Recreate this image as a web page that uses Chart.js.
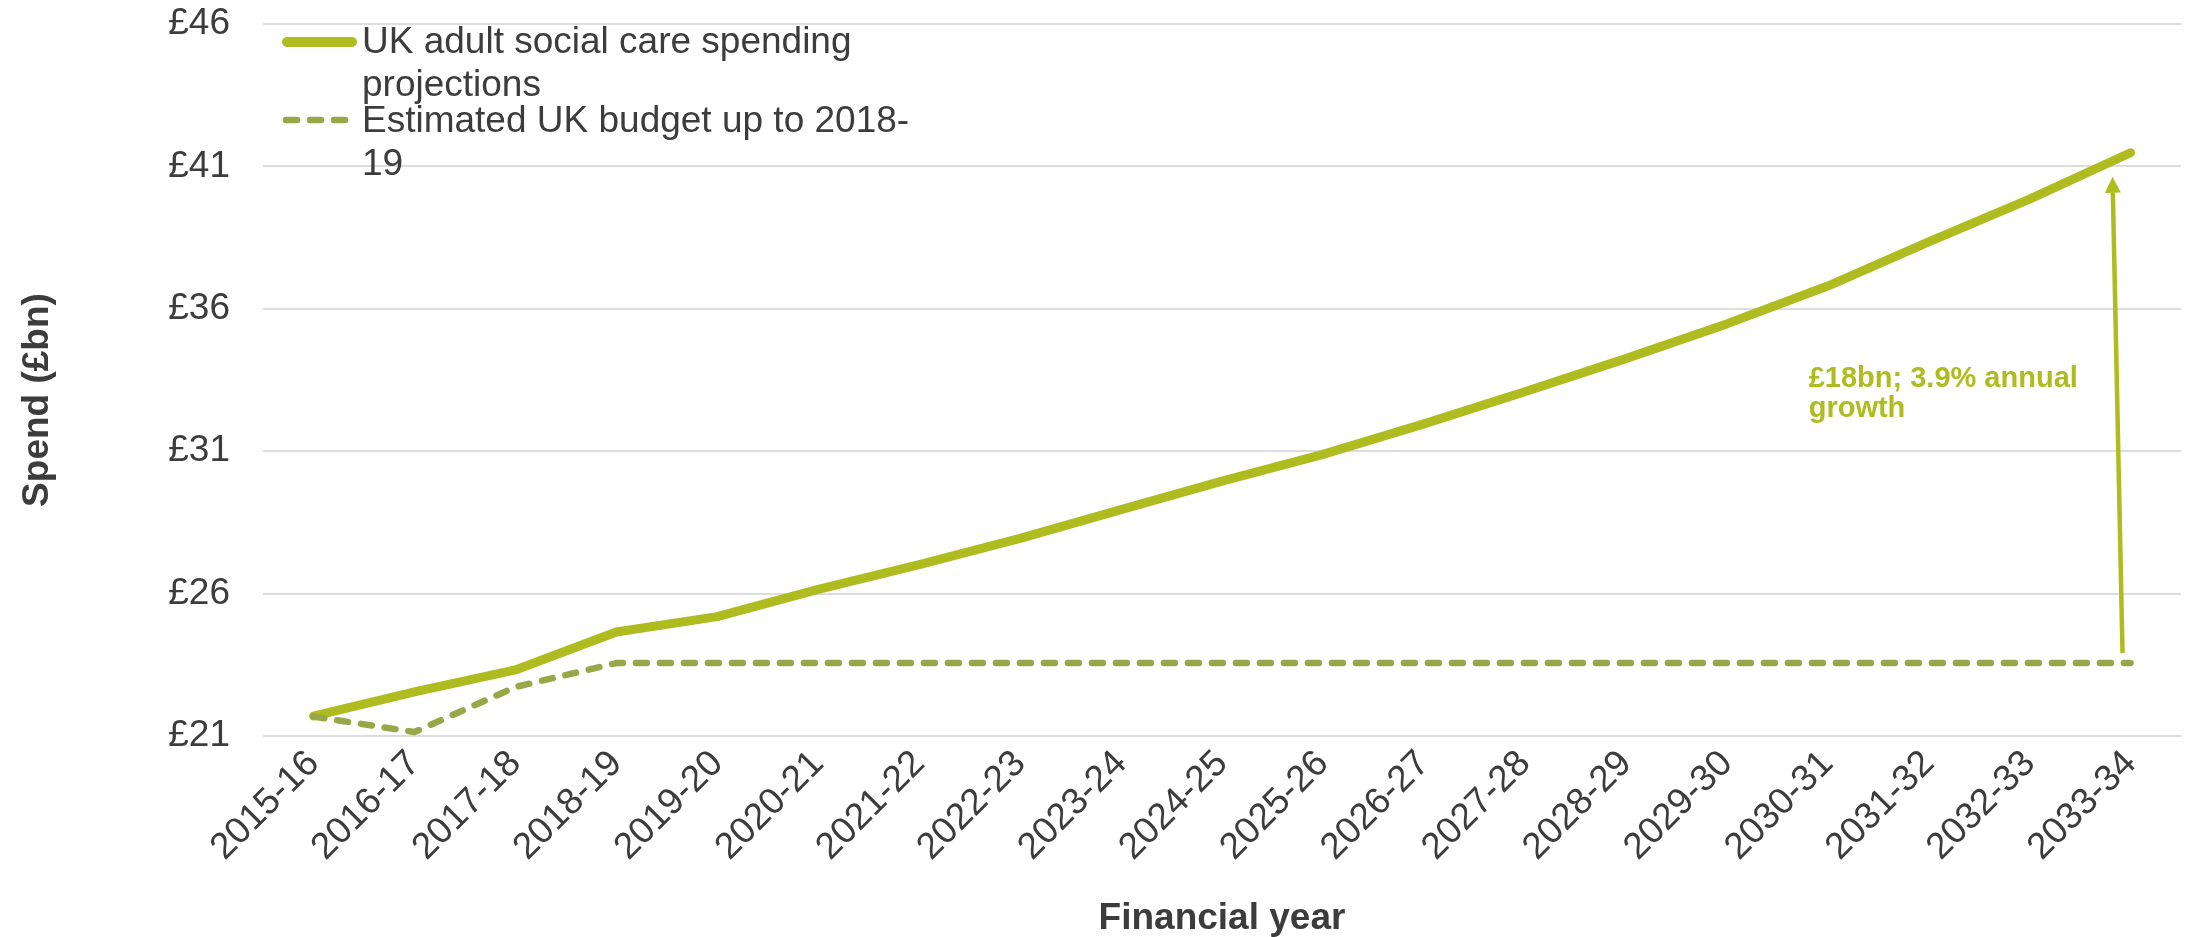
<!DOCTYPE html>
<html>
<head>
<meta charset="utf-8">
<title>UK adult social care spending projections</title>
<script src="https://cdn.jsdelivr.net/npm/chart.js@4/dist/chart.umd.min.js"></script>
<style>
  html, body { margin: 0; padding: 0; background: #ffffff; }
  #wrap { width: 2188px; height: 937px; }
</style>
</head>
<body>
<div id="wrap"><canvas id="chart" width="2188" height="937"></canvas></div>
<script>
// Financial years on the x axis
const years = [
  '2015-16', '2016-17', '2017-18', '2018-19', '2019-20', '2020-21', '2021-22',
  '2022-23', '2023-24', '2024-25', '2025-26', '2026-27', '2027-28', '2028-29',
  '2029-30', '2030-31', '2031-32', '2032-33', '2033-34'
];

// Projected UK adult social care spending (£bn)
const projection = [
  21.7, 22.55, 23.32, 24.65, 25.19, 26.15, 27.02, 27.94, 28.95, 29.95,
  30.89, 31.96, 33.09, 34.25, 35.47, 36.8, 38.35, 39.85, 41.48
];

// Estimated UK budget (£bn), held flat after 2018-19
const budget = [
  21.68, 21.14, 22.72, 23.56, 23.56, 23.56, 23.56, 23.56, 23.56, 23.56,
  23.56, 23.56, 23.56, 23.56, 23.56, 23.56, 23.56, 23.56, 23.56
];

// Spend axis range and tick step (£bn)
const yMin = 21;
const yMax = 46;
const yStep = 5;

const seriesNames = [
  ['UK adult social care spending', 'projections'],
  ['Estimated UK budget up to 2018-', '19']
];
const yTitle = 'Spend (£bn)';
const xTitle = 'Financial year';
const gapNote = ['£18bn; 3.9% annual', 'growth'];

const LIME = '#AFBC1F';
const OLIVE = '#98A848';
const INK = '#3C3C3C';
const FONT = '"Liberation Sans", Arial, Helvetica, sans-serif';

// Legend, y-axis title, gap arrow and its note
const overlay = {
  id: 'overlay',
  afterDatasetsDraw(chart) {
    const { ctx, scales: { x, y } } = chart;
    const last = years.length - 1;
    const xs = x.getPixelForValue(last);
    const bx = xs - 8, by = y.getPixelForValue(budget[last]) - 10;
    const tx = xs - 18, ty = y.getPixelForValue(projection[last]) + 24;
    const len = Math.hypot(tx - bx, ty - by);
    const ux = (tx - bx) / len, uy = (ty - by) / len;
    const headLen = 16, headHalf = 8;
    const hx = tx - ux * headLen, hy = ty - uy * headLen;

    ctx.save();
    ctx.strokeStyle = LIME;
    ctx.fillStyle = LIME;
    ctx.lineWidth = 4.5;
    ctx.beginPath();
    ctx.moveTo(bx, by);
    ctx.lineTo(hx + ux * 2, hy + uy * 2);
    ctx.stroke();
    ctx.beginPath();
    ctx.moveTo(tx, ty);
    ctx.lineTo(hx - uy * headHalf, hy + ux * headHalf);
    ctx.lineTo(hx + uy * headHalf, hy - ux * headHalf);
    ctx.closePath();
    ctx.fill();

    ctx.font = 'bold 29px ' + FONT;
    ctx.textAlign = 'left';
    ctx.textBaseline = 'alphabetic';
    const nx = x.getPixelForValue(15) - 19;
    const ny = y.getPixelForValue(33.25);
    gapNote.forEach((line, i) => ctx.fillText(line, nx, ny + i * 30));
    ctx.restore();
  },
  afterDraw(chart) {
    const { ctx, chartArea } = chart;
    const L = chartArea.left, T = chartArea.top;
    ctx.save();

    // legend markers
    ctx.lineCap = 'round';
    ctx.strokeStyle = LIME;
    ctx.lineWidth = 10;
    ctx.beginPath();
    ctx.moveTo(L + 24, T + 18);
    ctx.lineTo(L + 89, T + 18);
    ctx.stroke();

    ctx.strokeStyle = OLIVE;
    ctx.lineWidth = 6.5;
    ctx.setLineDash([11, 13]);
    ctx.beginPath();
    ctx.moveTo(L + 23, T + 96);
    ctx.lineTo(L + 85, T + 96);
    ctx.stroke();
    ctx.setLineDash([]);

    // legend labels
    ctx.fillStyle = INK;
    ctx.font = '37px ' + FONT;
    ctx.textAlign = 'left';
    ctx.textBaseline = 'alphabetic';
    const tx = L + 99;
    ctx.fillText(seriesNames[0][0], tx, T + 29);
    ctx.fillText(seriesNames[0][1], tx, T + 72);
    ctx.fillText(seriesNames[1][0], tx, T + 108);
    ctx.fillText(seriesNames[1][1], tx, T + 151);

    // y-axis title
    ctx.font = 'bold 37px ' + FONT;
    ctx.textAlign = 'center';
    ctx.translate(48, (chartArea.top + chartArea.bottom) / 2 + 20);
    ctx.rotate(-Math.PI / 2);
    ctx.fillText(yTitle, 0, 0);
    ctx.restore();
  }
};

new Chart(document.getElementById('chart'), {
  type: 'line',
  data: {
    labels: years,
    datasets: [
      {
        label: seriesNames[0].join(' '),
        data: projection,
        borderColor: LIME,
        backgroundColor: LIME,
        borderWidth: 9,
        borderCapStyle: 'round',
        borderJoinStyle: 'round',
        pointRadius: 0,
        tension: 0,
        order: 1
      },
      {
        label: seriesNames[1].join(' '),
        data: budget,
        borderColor: OLIVE,
        backgroundColor: OLIVE,
        borderWidth: 6.5,
        borderDash: [11, 13],
        borderCapStyle: 'round',
        borderJoinStyle: 'round',
        pointRadius: 0,
        tension: 0,
        order: 0
      }
    ]
  },
  options: {
    responsive: false,
    animation: false,
    devicePixelRatio: 1,
    layout: { padding: { top: 24, right: 7, bottom: 0, left: 0 } },
    plugins: {
      legend: { display: false },
      tooltip: { enabled: false }
    },
    scales: {
      x: {
        offset: true,
        grid: { display: false, drawTicks: false },
        border: { display: false },
        ticks: {
          color: INK,
          font: { family: FONT, size: 37 },
          minRotation: 45,
          maxRotation: 45,
          autoSkip: false,
          padding: 6
        },
        title: {
          display: true,
          text: xTitle,
          color: INK,
          font: { family: FONT, size: 37, weight: 'bold', lineHeight: 1.0 },
          padding: { top: 0, bottom: 0 }
        },
        afterFit(scale) { scale.height = 201; }
      },
      y: {
        min: yMin,
        max: yMax,
        grid: { color: '#DDDDDD', lineWidth: 2, drawTicks: false },
        border: { display: false },
        ticks: {
          stepSize: yStep,
          color: INK,
          padding: 33,
          font: { family: FONT, size: 37 },
          callback: (v) => '£' + v
        },
        afterFit(scale) {
          scale.width = 263;
          scale.paddingTop = 0;
          scale.paddingBottom = 0;
        }
      }
    }
  },
  plugins: [overlay]
});
</script>
</body>
</html>
